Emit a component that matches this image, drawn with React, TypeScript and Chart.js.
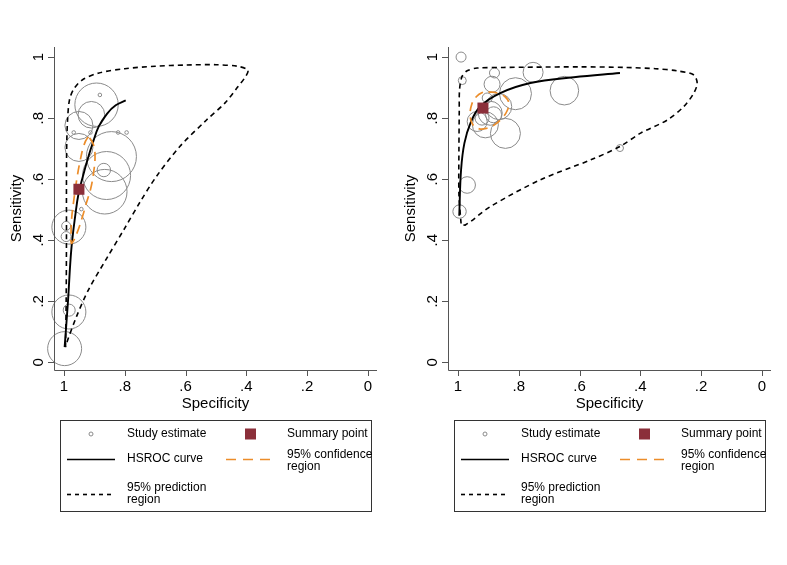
import React, { useEffect, useRef } from 'react';
import { Chart, registerables } from 'chart.js';
Chart.register(...registerables);

// ---------- shared axis ticks ----------
const tickValues = [0, 0.2, 0.4, 0.6, 0.8, 1];
const tickLabels = ['0', '.2', '.4', '.6', '.8', '1'];

// ---------- Panel A (left) ----------
const aStudySpec = [0.893, 0.882, 0.910, 0.951, 0.968, 0.913, 0.822, 0.794, 0.951, 0.844, 0.869, 0.860, 0.866, 0.943, 0.984, 0.993, 0.993, 0.984, 0.983, 0.998];
const aStudySens = [0.844, 0.876, 0.811, 0.776, 0.753, 0.753, 0.753, 0.753, 0.704, 0.674, 0.630, 0.612, 0.559, 0.502, 0.443, 0.447, 0.412, 0.165, 0.171, 0.045];
const aStudyWeight = [21.7, 1.8, 13.3, 14, 1.8, 1.8, 1.8, 1.8, 14, 25, 6.7, 24, 22.3, 1.8, 17, 4.5, 5, 17, 6, 17];
const aSummary = [0.951, 0.567];
const aHsrocSpec = [0.998, 0.987, 0.976, 0.962, 0.952, 0.938, 0.923, 0.905, 0.886, 0.858, 0.830, 0.797];
const aHsrocSens = [0.05, 0.20, 0.37, 0.489, 0.554, 0.609, 0.663, 0.72, 0.772, 0.815, 0.842, 0.858];
const aConfSpec = [0.915, 0.902, 0.898, 0.903, 0.912, 0.927, 0.940, 0.955, 0.968, 0.976, 0.977, 0.975, 0.968, 0.958, 0.947, 0.935, 0.923, 0.915];
const aConfSens = [0.735, 0.71, 0.67, 0.62, 0.57, 0.52, 0.475, 0.43, 0.40, 0.39, 0.41, 0.47, 0.53, 0.60, 0.66, 0.71, 0.735, 0.735];
const aPredSpec = [0.995, 0.993, 0.992, 0.992, 0.991, 0.988, 0.982, 0.968, 0.940, 0.885, 0.80, 0.70, 0.60, 0.50, 0.43, 0.395, 0.400, 0.430, 0.470, 0.531, 0.619, 0.696, 0.750, 0.800, 0.860, 0.920, 0.959, 0.992, 0.995];
const aPredSens = [0.05, 0.20, 0.40, 0.60, 0.72, 0.80, 0.86, 0.895, 0.925, 0.948, 0.962, 0.970, 0.974, 0.975, 0.970, 0.958, 0.940, 0.900, 0.850, 0.794, 0.707, 0.609, 0.525, 0.440, 0.340, 0.237, 0.150, 0.062, 0.05];

// ---------- Panel B (right) ----------
const bStudySpec = [0.990, 0.986, 0.880, 0.753, 0.888, 0.811, 0.650, 0.866, 0.894, 0.904, 0.937, 0.921, 0.910, 0.844, 0.883, 0.467, 0.970, 0.995];
const bStudySens = [1.0, 0.923, 0.948, 0.950, 0.911, 0.880, 0.890, 0.838, 0.816, 0.866, 0.789, 0.800, 0.778, 0.750, 0.811, 0.702, 0.581, 0.494];
const bStudyWeight = [5, 4, 5, 10, 8, 16, 14.3, 13, 12, 5, 10, 7, 13, 15, 8, 3.5, 8.3, 6.7];
const bSummary = [0.918, 0.833];
const bHsrocSpec = [0.996, 0.99, 0.979, 0.959, 0.927, 0.861, 0.762, 0.619, 0.467];
const bHsrocSens = [0.48, 0.63, 0.718, 0.784, 0.838, 0.882, 0.915, 0.934, 0.948];
const bConfSpec = [0.90, 0.87, 0.845, 0.833, 0.838, 0.855, 0.880, 0.905, 0.930, 0.952, 0.960, 0.955, 0.94, 0.92, 0.90];
const bConfSens = [0.886, 0.882, 0.870, 0.850, 0.825, 0.800, 0.778, 0.767, 0.765, 0.780, 0.810, 0.845, 0.870, 0.884, 0.886];
const bPredSpec = [0.99, 0.997, 0.997, 0.996, 0.995, 0.987, 0.970, 0.937, 0.85, 0.75, 0.60, 0.45, 0.35, 0.28, 0.225, 0.213, 0.224, 0.257, 0.311, 0.399, 0.467, 0.564, 0.729, 0.894, 0.976, 0.99];
const bPredSens = [0.455, 0.55, 0.70, 0.82, 0.893, 0.936, 0.955, 0.964, 0.966, 0.967, 0.968, 0.966, 0.962, 0.955, 0.942, 0.915, 0.882, 0.838, 0.794, 0.751, 0.707, 0.663, 0.598, 0.510, 0.450, 0.455];

const FONT = '"Liberation Sans", Arial, Helvetica, sans-serif';
const MAROON = '#8b2f3a';
const ORANGE = '#ec8d2a';
const GREY = '#8a8a8a';

const pts = (xs: number[], ys: number[]) => xs.map((x, i) => ({ x, y: ys[i] }));

const axesLegendPlugin = {
  id: 'axesLegend',
  afterDraw(chart: any) {
    const { ctx, chartArea: ca, scales } = chart;
    const xs = scales.x, ys = scales.y;
    ctx.save();
    // axes
    ctx.strokeStyle = '#555';
    ctx.lineWidth = 1;
    ctx.beginPath();
    ctx.moveTo(Math.round(ca.left) + 0.5, ca.top);
    ctx.lineTo(Math.round(ca.left) + 0.5, Math.round(ca.bottom) + 0.5);
    ctx.lineTo(ca.right, Math.round(ca.bottom) + 0.5);
    ctx.stroke();
    ctx.fillStyle = '#000';
    ctx.font = `15px ${FONT}`;
    // y ticks
    tickValues.forEach((v, i) => {
      const py = ys.getPixelForValue(v);
      ctx.beginPath();
      ctx.moveTo(ca.left - 6, Math.round(py) + 0.5);
      ctx.lineTo(ca.left, Math.round(py) + 0.5);
      ctx.stroke();
      ctx.save();
      ctx.translate(ca.left - 15.5, py);
      ctx.rotate(-Math.PI / 2);
      ctx.textAlign = 'center';
      ctx.textBaseline = 'middle';
      ctx.fillText(tickLabels[i], 0, 0);
      ctx.restore();
    });
    // x ticks
    tickValues.forEach((v, i) => {
      const px = xs.getPixelForValue(v);
      ctx.beginPath();
      ctx.moveTo(Math.round(px) + 0.5, ca.bottom);
      ctx.lineTo(Math.round(px) + 0.5, ca.bottom + 6);
      ctx.stroke();
      ctx.textAlign = 'center';
      ctx.textBaseline = 'middle';
      ctx.fillText(tickLabels[i], px, ca.bottom + 17);
    });
    // titles
    ctx.textAlign = 'center';
    ctx.textBaseline = 'middle';
    ctx.fillText('Specificity', (ca.left + ca.right) / 2, ca.bottom + 34);
    ctx.save();
    ctx.translate(ca.left - 37, (ca.top + ca.bottom) / 2);
    ctx.rotate(-Math.PI / 2);
    ctx.fillText('Sensitivity', 0, 0);
    ctx.restore();

    // legend box
    const L = 60;
    ctx.strokeStyle = '#333';
    ctx.lineWidth = 1;
    ctx.strokeRect(L + 0.5, 420.5, 311, 91);
    ctx.font = `12px ${FONT}`;
    ctx.textAlign = 'left';
    ctx.textBaseline = 'middle';
    // study estimate
    ctx.strokeStyle = GREY;
    ctx.beginPath();
    ctx.arc(L + 31, 434, 2, 0, Math.PI * 2);
    ctx.stroke();
    ctx.fillStyle = '#000';
    ctx.fillText('Study estimate', L + 67, 434);
    // summary point
    ctx.fillStyle = MAROON;
    ctx.fillRect(L + 185, 428.5, 11, 11);
    ctx.fillStyle = '#000';
    ctx.fillText('Summary point', L + 227, 434);
    // HSROC
    ctx.strokeStyle = '#000';
    ctx.lineWidth = 1.6;
    ctx.beginPath();
    ctx.moveTo(L + 7, 459.5);
    ctx.lineTo(L + 55, 459.5);
    ctx.stroke();
    ctx.fillText('HSROC curve', L + 67, 459);
    // confidence
    ctx.strokeStyle = ORANGE;
    ctx.setLineDash([10, 7]);
    ctx.beginPath();
    ctx.moveTo(L + 166, 459.5);
    ctx.lineTo(L + 213, 459.5);
    ctx.stroke();
    ctx.fillText('95% confidence', L + 227, 455);
    ctx.fillText('region', L + 227, 467);
    // prediction
    ctx.strokeStyle = '#000';
    ctx.setLineDash([4, 4]);
    ctx.beginPath();
    ctx.moveTo(L + 7, 494.5);
    ctx.lineTo(L + 55, 494.5);
    ctx.stroke();
    ctx.setLineDash([]);
    ctx.fillText('95% prediction', L + 67, 488);
    ctx.fillText('region', L + 67, 500);
    ctx.restore();
  },
};

type PanelProps = {
  left: number;
  studySpec: number[];
  studySens: number[];
  studyWeight: number[];
  summary: number[];
  hsrocSpec: number[];
  hsrocSens: number[];
  confSpec: number[];
  confSens: number[];
  predSpec: number[];
  predSens: number[];
};

function Panel(p: PanelProps) {
  const ref = useRef<HTMLCanvasElement | null>(null);
  useEffect(() => {
    if (!ref.current) return;
    const chart = new Chart(ref.current, {
      type: 'scatter',
      data: {
        datasets: [
          {
            type: 'scatter',
            label: 'Summary point',
            data: [{ x: p.summary[0], y: p.summary[1] }],
            pointStyle: 'rect',
            pointRadius: 7.8,
            backgroundColor: MAROON,
            borderColor: MAROON,
            borderWidth: 0,
            order: 0,
          } as any,
          {
            type: 'scatter',
            label: '95% confidence region',
            data: pts(p.confSpec, p.confSens),
            showLine: true,
            pointRadius: 0,
            borderColor: ORANGE,
            borderWidth: 1.7,
            borderDash: [9, 6],
            tension: 0.4,
            order: 1,
          },
          {
            type: 'scatter',
            label: 'HSROC curve',
            data: pts(p.hsrocSpec, p.hsrocSens),
            showLine: true,
            pointRadius: 0,
            borderColor: '#000',
            borderWidth: 1.9,
            tension: 0.4,
            order: 2,
          },
          {
            type: 'scatter',
            label: '95% prediction region',
            data: pts(p.predSpec, p.predSens),
            showLine: true,
            pointRadius: 0,
            borderColor: '#000',
            borderWidth: 1.6,
            borderDash: [5, 4],
            tension: 0.3,
            order: 3,
          },
          {
            type: 'bubble',
            label: 'Study estimate',
            data: p.studySpec.map((x, i) => ({ x, y: p.studySens[i], r: p.studyWeight[i] })),
            backgroundColor: 'rgba(0,0,0,0)',
            borderColor: GREY,
            borderWidth: 1,
            clip: false,
            order: 4,
          } as any,
        ],
      },
      options: {
        animation: false,
        responsive: false,
        maintainAspectRatio: false,
        layout: { autoPadding: false, padding: { left: 54, top: 47, right: 16, bottom: 195 } },
        plugins: { legend: { display: false }, tooltip: { enabled: false } },
        events: [],
        scales: {
          x: { type: 'linear', min: -0.03, max: 1.033, reverse: true, display: false },
          y: { type: 'linear', min: -0.025, max: 1.033, display: false },
        },
      },
      plugins: [axesLegendPlugin],
    });
    return () => chart.destroy();
  }, []);
  return (
    <canvas
      ref={ref}
      width={393}
      height={565}
      style={{ position: 'absolute', left: p.left, top: 0, width: 393, height: 565 }}
    />
  );
}

export default function App() {
  return (
    <div style={{ position: 'fixed', left: 0, top: 0, width: 787, height: 565, background: '#fff' }}>
      <Panel
        left={0}
        studySpec={aStudySpec}
        studySens={aStudySens}
        studyWeight={aStudyWeight}
        summary={aSummary}
        hsrocSpec={aHsrocSpec}
        hsrocSens={aHsrocSens}
        confSpec={aConfSpec}
        confSens={aConfSens}
        predSpec={aPredSpec}
        predSens={aPredSens}
      />
      <Panel
        left={394}
        studySpec={bStudySpec}
        studySens={bStudySens}
        studyWeight={bStudyWeight}
        summary={bSummary}
        hsrocSpec={bHsrocSpec}
        hsrocSens={bHsrocSens}
        confSpec={bConfSpec}
        confSens={bConfSens}
        predSpec={bPredSpec}
        predSens={bPredSens}
      />
    </div>
  );
}
